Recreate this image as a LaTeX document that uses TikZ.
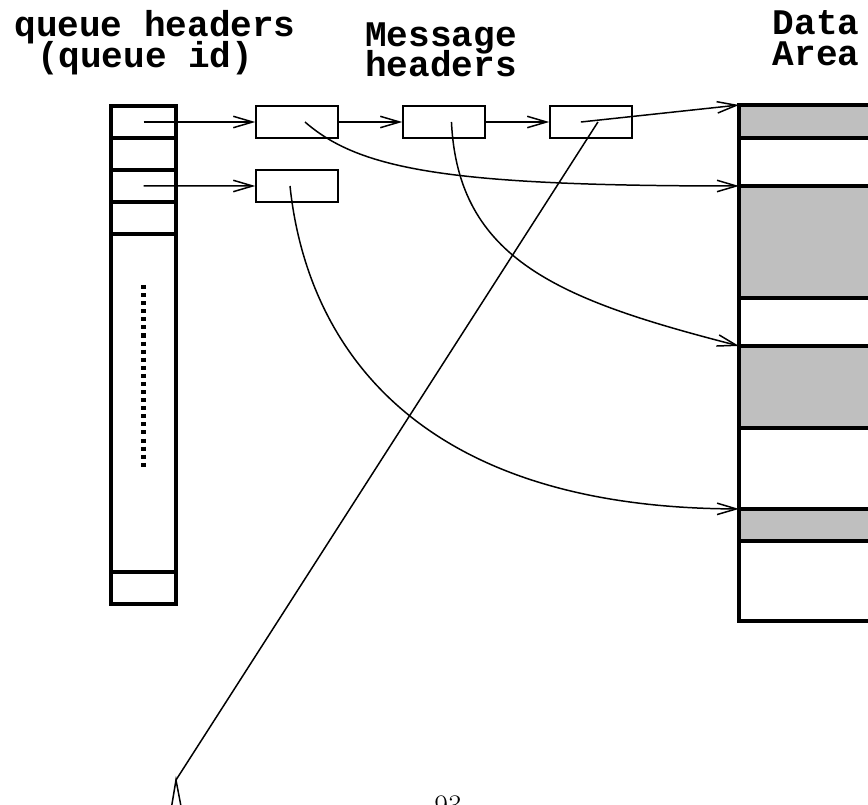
\documentclass[tikz,border=0pt]{standalone}
\usepackage{fontspec}
\setmonofont{Liberation Mono}
\usetikzlibrary{arrows.meta,positioning}

\begin{document}
\begin{tikzpicture}[x=0.02cm,y=-0.02cm,>={Straight Barb[length=11pt,width=6.5pt]},node distance=1.27cm]
  \tikzstyle{qslot}=[draw,line width=2.3pt,minimum width=1.3cm,minimum height=0.64cm,inner sep=0pt,outer sep=0pt]
  \tikzstyle{msg}=[draw,line width=0.85pt,minimum width=1.64cm,minimum height=0.64cm,inner sep=0pt]
  \tikzstyle{data}=[draw,line width=2.3pt,minimum width=3.2cm,anchor=north west,inner sep=0pt,outer sep=0pt]
  \tikzstyle{used}=[fill=black!25]
  \tikzstyle{lbl}=[align=center,inner sep=0pt,anchor=north,font={\ttfamily\bfseries\fontsize{20.5}{17.5}\selectfont\lineskiplimit=-\maxdimen}]
  \tikzstyle{link}=[line width=0.85pt]
  \useasboundingbox (0,0) rectangle (868,804);
  % queue headers
  \node[qslot] (q1) at (143.5,122) {};
  \node[qslot,below=0pt of q1] (q2) {};
  \node[qslot,below=0pt of q2] (q3) {};
  \node[qslot,below=0pt of q3] (q4) {};
  \node[qslot,below=0pt of q4,minimum height=6.76cm] (q5) {};
  \node[qslot,below=0pt of q5] (q6) {};
  \draw[line width=2.8pt,dash pattern=on 2.3pt off 2.3pt] ([yshift=-1.02cm]q5.north) -- ([yshift=-4.72cm]q5.north);
  % message headers
  \node[msg] (m1) at (297,122) {};
  \node[msg,right=of m1] (m2) {};
  \node[msg,right=of m2] (m3) {};
  \node[msg,below=0.61cm of m1] (m4) {};
  % data area
  \node[data,used,minimum height=0.66cm] (d1) at (739,105) {};
  \node[data,below=0pt of d1,minimum height=0.96cm] (d2) {};
  \node[data,used,below=0pt of d2,minimum height=2.24cm] (d3) {};
  \node[data,below=0pt of d3,minimum height=0.96cm] (d4) {};
  \node[data,used,below=0pt of d4,minimum height=1.64cm] (d5) {};
  \node[data,below=0pt of d5,minimum height=1.62cm] (d6) {};
  \node[data,used,below=0pt of d6,minimum height=0.64cm] (d7) {};
  \node[data,below=0pt of d7,minimum height=1.6cm] (d8) {};
  % labels
  \node[lbl] (qlbl) at (155,10) {queue headers\\(queue id)\hspace*{0.55em}};
  \node[lbl] (mlbl) at (441,22) {Message\\headers};
  \node[lbl] (dlbl) at (816,10) {Data\\Area};
  \node[inner sep=0pt,anchor=north,font=\fontsize{17}{20}\selectfont] (pg) at (448,795) {93};
  % links
  \coordinate (tail) at (176,780);
  \draw[link,->] (q1.center) -- (m1.west);
  \draw[link,->] (q3.center) -- (m4.west);
  \draw[link,->] (m1) -- (m2);
  \draw[link,->] (m2) -- (m3);
  \draw[link,->] ([xshift=-0.2cm]m3.center) -- (d1.north west);
  \draw[link,->] ([xshift=0.16cm]m1.center) .. controls (360,170) and (450,186) .. (d3.north west);
  \draw[link,->] ([xshift=0.15cm]m2.center) .. controls (458,260) and (560,300) .. (d5.north west);
  \draw[link,->] ([xshift=-0.14cm]m4.center) .. controls (305,330) and (400,508) .. (d7.north west);
  \draw[link] ([xshift=0.14cm]m3.center) -- (tail);
  \draw[link] (169,822) -- (tail) -- (184,822);
\end{tikzpicture}
\end{document}
